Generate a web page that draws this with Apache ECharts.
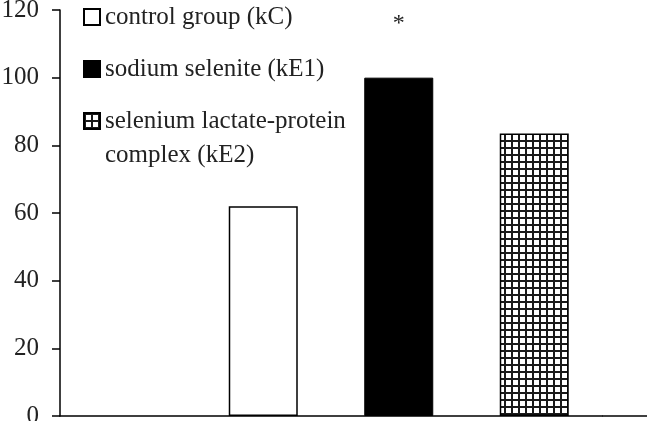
<!DOCTYPE html>
<html>
<head>
<meta charset="utf-8">
<script src="https://cdn.jsdelivr.net/npm/echarts@6/dist/echarts.min.js"></script>
<style>html,body{margin:0;padding:0;background:#fff}#c{width:647px;height:421px}</style>
</head>
<body>
<div id="c"></div>
<script>
// ---- data ----
var categories = ['', 'kC', 'kE1', 'kE2'];
var groupNames = ['control group (kC)', 'sodium selenite (kE1)', 'selenium lactate-protein\ncomplex (kE2)'];
var groupValues = [62, 100, 83.5];
var significance = ['', '*', ''];
var yTicks = [0, 20, 40, 60, 80, 100, 120];

// ---- styles ----
var FONT = '"Liberation Serif", "Times New Roman", serif';
var pc = document.createElement('canvas');
pc.width = 7; pc.height = 7;
var g = pc.getContext('2d');
g.fillStyle = '#ffffff'; g.fillRect(0, 0, 7, 7);
g.fillStyle = '#1a1a1a'; g.fillRect(0, 0, 7, 2); g.fillRect(0, 0, 2, 7);

var fills = [
  { color: '#ffffff', borderColor: '#000', borderWidth: 1.5 },
  { color: '#000000', borderColor: '#000', borderWidth: 1 },
  { color: { image: pc, repeat: 'repeat' }, borderColor: '#000', borderWidth: 1.5 }
];

var series = groupNames.map(function (name, i) {
  var data = categories.map(function (c, j) { return j === i + 1 ? groupValues[i] : null; });
  return {
    name: name,
    type: 'bar',
    data: data,
    barWidth: 69,
    barGap: '-100%',
    itemStyle: fills[i],
    silent: true,
    animation: false,
    label: {
      show: significance[i] !== '',
      position: 'top',
      distance: 42,
      formatter: significance[i],
      fontFamily: FONT,
      fontSize: 24,
      color: '#222'
    }
  };
});

var legendBase = {
  orient: 'vertical',
  left: 83,
  padding: 0,
  icon: 'rect',
  itemWidth: 16,
  itemHeight: 16,
  itemGap: 18,
  selectedMode: false,
  textStyle: { fontFamily: FONT, fontSize: 25, color: '#222', lineHeight: 34 }
};

var chart = echarts.init(document.getElementById('c'));
chart.setOption({
  animation: false,
  backgroundColor: '#ffffff',
  grid: { left: 60, right: 45, top: 10, bottom: 5, containLabel: false, outerBoundsMode: 'none' },
  legend: [
    Object.assign({}, legendBase, { top: 0, data: [groupNames[0], groupNames[1]] }),
    Object.assign({}, legendBase, {
      top: 70,
      data: [groupNames[2]],
      formatter: function (name) { return '\n' + name; }
    })
  ],
  xAxis: {
    type: 'category',
    data: categories,
    axisLine: { lineStyle: { color: '#000', width: 1.5 } },
    axisTick: { show: false },
    axisLabel: { show: false },
    splitLine: { show: false }
  },
  yAxis: {
    type: 'value',
    min: yTicks[0],
    max: yTicks[yTicks.length - 1],
    interval: yTicks[1] - yTicks[0],
    axisLine: { show: true, lineStyle: { color: '#000', width: 1.5 } },
    axisTick: { show: true, length: 8, lineStyle: { color: '#000', width: 1.5 } },
    axisLabel: { margin: 21, fontFamily: FONT, fontSize: 25, color: '#222' },
    splitLine: { show: false }
  },
  graphic: [{
    type: 'line',
    shape: { x1: 602, y1: 416, x2: 647, y2: 416 },
    style: { stroke: '#000', lineWidth: 1.5 },
    silent: true
  }],
  series: series
});
</script>
</body>
</html>
